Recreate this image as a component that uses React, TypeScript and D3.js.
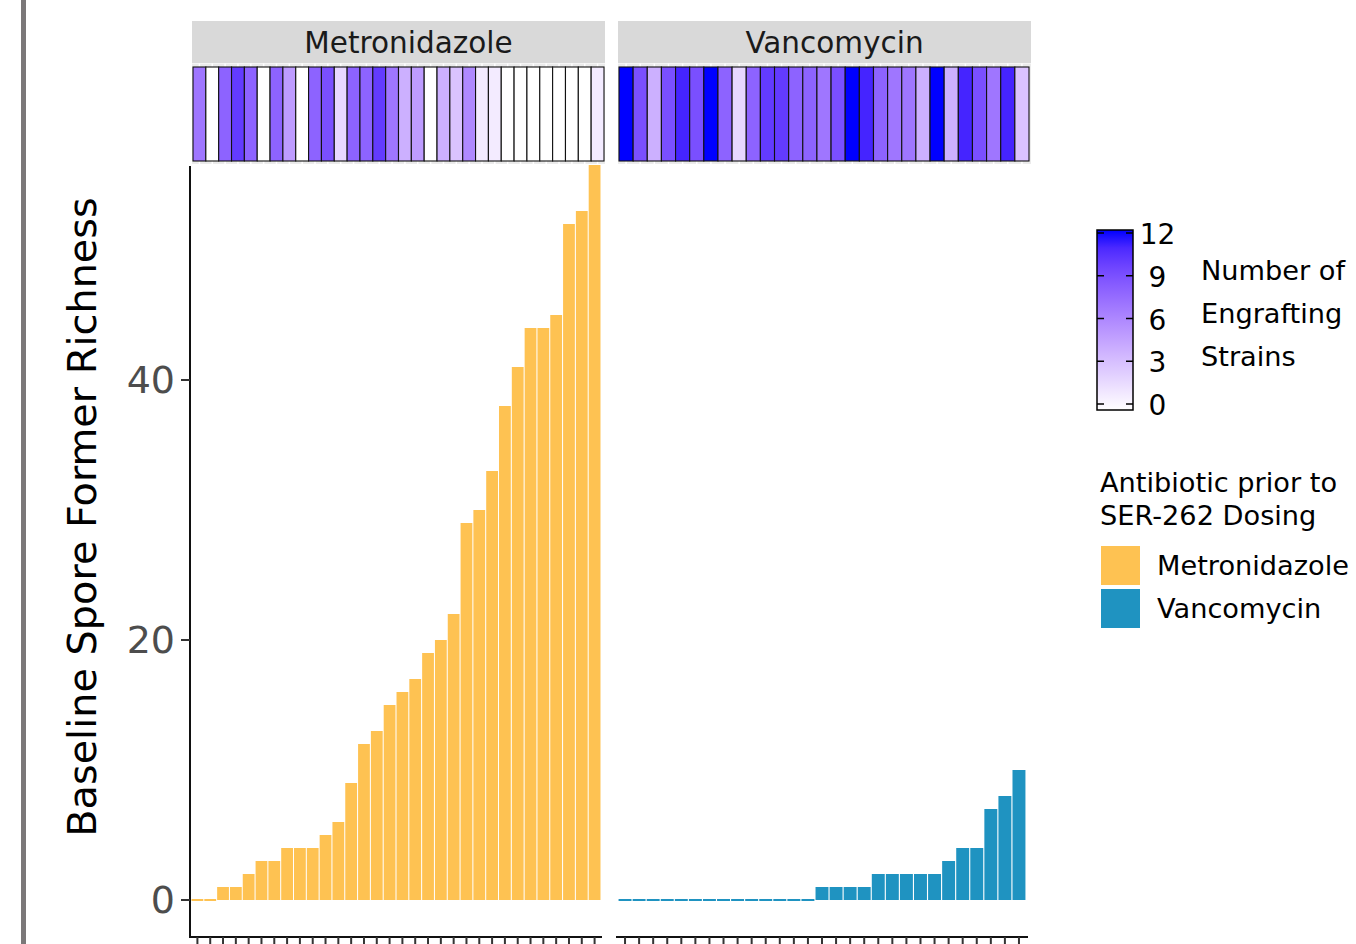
import React from "react";
import * as d3 from "d3";

const panels = ["Metronidazole", "Vancomycin"];
const metroRichness = [0, 0, 1, 1, 2, 3, 3, 4, 4, 4, 5, 6, 9, 12, 13, 15, 16, 17, 19, 20, 22, 29, 30, 33, 38, 41, 44, 44, 45, 52, 53, 57];
const metroStrains = [7, 0, 8, 10, 8, 0, 8, 5, 0, 8, 9, 2, 8, 8, 10, 7, 4, 5, 0, 4, 3, 6, 1, 1, 0, 0, 0, 0, 0, 0, 0, 1];
const vancoRichness = [0, 0, 0, 0, 0, 0, 0, 0, 0, 0, 0, 0, 0, 0, 1, 1, 1, 1, 2, 2, 2, 2, 2, 3, 4, 4, 7, 8, 10];
const vancoStrains = [12, 9, 4, 9, 11, 9, 12, 8, 2, 8, 10, 10, 8, 8, 7, 9, 12, 11, 8, 7, 7, 4, 12, 4, 11, 9, 7, 11, 3];
const yTicks = [0, 20, 40];
const strainTicks = [0, 3, 6, 9, 12];
const antibioticColors = ["#FEC252", "#1F93C1"];

const FONT = "'DejaVu Sans', sans-serif";

const yScale = d3.scaleLinear().domain([0, 40]).range([900, 380]);
const heatColor = d3.scaleLinear<string>().domain([0, 12]).range(["white", "blue"]).interpolate(d3.interpolateLab);

const panelDefs = [
  { name: panels[0], richness: metroRichness, strains: metroStrains, bar: [191, 601], axis: [189, 602], heat: [193, 604], strip: [192, 605], color: antibioticColors[0] },
  { name: panels[1], richness: vancoRichness, strains: vancoStrains, bar: [618, 1026], axis: [616, 1028], heat: [619, 1029], strip: [618, 1031], color: antibioticColors[1] },
];

function Panel({ p, idx }: { p: any; idx: number }) {
  const ids = p.richness.map((_: number, i: number) => String(i));
  const xb = d3.scaleBand<string>().domain(ids).range(p.bar).paddingInner(0.08).paddingOuter(0.04);
  const xh = d3.scaleBand<string>().domain(ids).range(p.heat).padding(0);
  const clipId = `clip${idx}`;
  return (
    <g>
      <clipPath id={clipId}>
        <rect x={p.axis[0]} y={165} width={p.axis[1] - p.axis[0] + 2} height={775} />
      </clipPath>
      <rect x={p.strip[0]} y={21} width={p.strip[1] - p.strip[0]} height={42} fill="#D9D9D9" />
      <text x={(p.strip[0] + p.strip[1]) / 2 + 10} y={43} textAnchor="middle" dominantBaseline="central" fontFamily={FONT} fontSize={29.5} fill="#1A1A1A">{p.name}</text>
      <rect x={p.strip[0]} y={63.5} width={p.strip[1] - p.strip[0]} height={100.5} fill="#EBEBEB" />
      {ids.map((id: string) => (
        <line key={"g" + id} x1={(xh(id) as number) + xh.bandwidth() / 2} x2={(xh(id) as number) + xh.bandwidth() / 2} y1={63.5} y2={164} stroke="white" strokeWidth={1.5} />
      ))}
      {p.strains.map((v: number, i: number) => (
        <rect key={"h" + i} x={xh(String(i))} y={67} width={xh.bandwidth()} height={94} fill={heatColor(v)} stroke="#111" strokeWidth={1.1} />
      ))}
      <g clipPath={`url(#${clipId})`}>
        {p.richness.map((v: number, i: number) => {
          const y0 = yScale(0);
          const y1 = yScale(v);
          const top = v === 0 ? y0 - 1 : y1;
          const h = v === 0 ? 2 : y0 - y1;
          return <rect key={"b" + i} x={xb(String(i))} y={top} width={xb.bandwidth()} height={h} fill={p.color} />;
        })}
      </g>
      <line x1={p.axis[0]} x2={p.axis[1]} y1={937} y2={937} stroke="#111" strokeWidth={2} />
      {ids.map((id: string) => {
        const cx = (xb(id) as number) + xb.bandwidth() / 2;
        return <line key={"t" + id} x1={cx} x2={cx} y1={937} y2={946} stroke="#333" strokeWidth={2} />;
      })}
    </g>
  );
}

export default function App() {
  const cbTop = 230, cbBottom = 410;
  const cbScale = d3.scaleLinear().domain([0, 12]).range([404, 233]);
  const stops = d3.range(0, 1.0001, 0.1);
  return (
    <svg width={1356} height={944} style={{ position: "absolute", left: 0, top: 0, background: "white" }}>
      <defs>
        <linearGradient id="cbgrad" x1="0" y1="1" x2="0" y2="0">
          {stops.map((s) => (
            <stop key={s} offset={`${s * 100}%`} stopColor={heatColor(s * 12)} />
          ))}
        </linearGradient>
      </defs>
      <rect x={0} y={0} width={1356} height={944} fill="white" />
      <rect x={21} y={0} width={5} height={944} fill="#7B7879" />

      {panelDefs.map((p, i) => (
        <Panel key={p.name} p={p} idx={i} />
      ))}

      <line x1={190} x2={190} y1={166} y2={938} stroke="#111" strokeWidth={2} />
      {yTicks.map((t) => (
        <g key={t}>
          <line x1={181} x2={190} y1={yScale(t)} y2={yScale(t)} stroke="#333" strokeWidth={2} />
          <text x={175} y={yScale(t)} textAnchor="end" dominantBaseline="central" fontFamily={FONT} fontSize={38} fill="#4D4D4D">{t}</text>
        </g>
      ))}
      <text transform="translate(96,517) rotate(-90)" textAnchor="middle" fontFamily={FONT} fontSize={39.8} fill="#000">Baseline Spore Former Richness</text>

      <rect x={1097} y={cbTop} width={36} height={cbBottom - cbTop} fill="url(#cbgrad)" stroke="#000" strokeWidth={1.5} />
      {strainTicks.map((t) => (
        <g key={t}>
          <line x1={1097} x2={1104} y1={cbScale(t)} y2={cbScale(t)} stroke="#000" strokeWidth={1.5} />
          <line x1={1126} x2={1133} y1={cbScale(t)} y2={cbScale(t)} stroke="#000" strokeWidth={1.5} />
          <text x={1157.5} y={cbScale(t) + 1.5} textAnchor="middle" dominantBaseline="central" fontFamily={FONT} fontSize={28} fill="#000">{t}</text>
        </g>
      ))}
      {["Number of", "Engrafting", "Strains"].map((s, i) => (
        <text key={s} x={1201} y={270 + i * 43} dominantBaseline="central" fontFamily={FONT} fontSize={27.2} fill="#000">{s}</text>
      ))}

      {["Antibiotic prior to", "SER-262 Dosing"].map((s, i) => (
        <text key={s} x={1100} y={482 + i * 33.5} dominantBaseline="central" fontFamily={FONT} fontSize={27.2} fill="#000">{s}</text>
      ))}
      {panels.map((name, i) => (
        <g key={name}>
          <rect x={1101} y={546 + i * 43} width={39} height={39} fill={antibioticColors[i]} />
          <text x={1157} y={565 + i * 43} dominantBaseline="central" fontFamily={FONT} fontSize={27.2} fill="#000">{name}</text>
        </g>
      ))}
    </svg>
  );
}
